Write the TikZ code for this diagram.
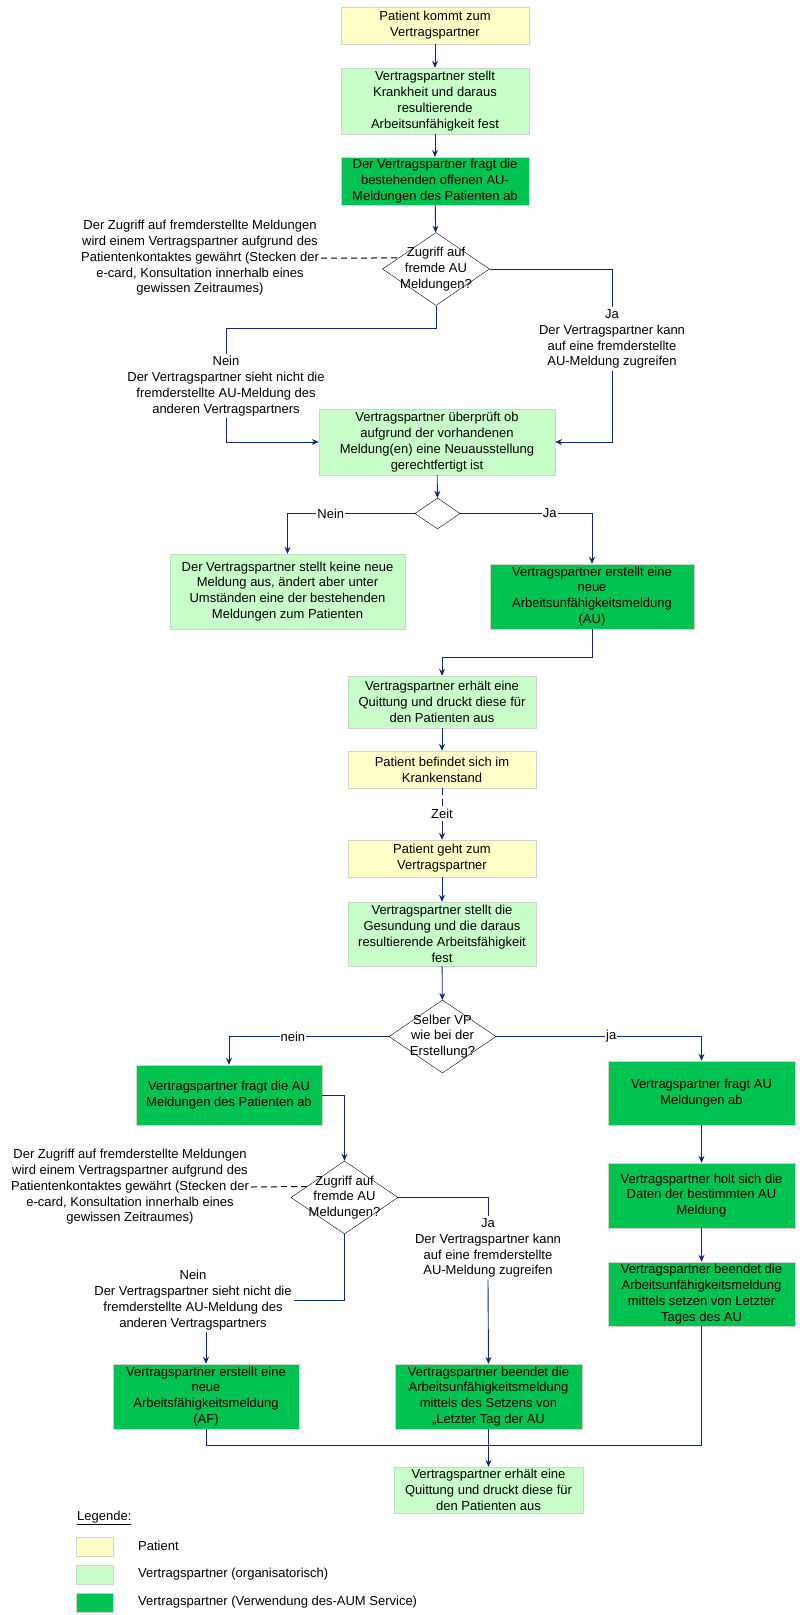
\documentclass[tikz,border=0pt]{standalone}
\usepackage{fontspec}
\setmainfont{Liberation Sans}
\usetikzlibrary{shapes.geometric,arrows.meta,calc}

\definecolor{patientyellow}{RGB}{255,255,200}
\definecolor{orgagreen}{RGB}{200,255,200}
\definecolor{aumgreen}{RGB}{0,194,80}
\definecolor{linkblue}{RGB}{16,40,120}

\begin{document}
\begin{tikzpicture}[x=1pt,y=-1pt,
  font=\fontsize{13}{15.8}\selectfont,
  box/.style={draw=black!18, align=center, inner sep=2pt},
  patient/.style={box, fill=patientyellow},
  orga/.style={box, fill=orgagreen},
  aum/.style={box, fill=aumgreen},
  decision/.style={diamond, draw, inner sep=0pt, minimum width=107pt, minimum height=73pt},
  note/.style={align=center, inner sep=2pt},
  lbl/.style={fill=white, inner sep=1pt},
  flow/.style={draw=linkblue, line width=0.9pt},
  arr/.style={flow, -{Stealth[length=7pt,width=6pt]}},
  hint/.style={draw=black, line width=1pt, dash pattern=on 6pt off 4pt}]

  \useasboundingbox (0,0) rectangle (800,1615);

  % first visit
  \node (p1) at (435,25.5) [patient, minimum width=188pt, minimum height=37pt] {Patient kommt zum\\Vertragspartner};
  \node (b2) at (435,101) [orga, minimum width=188pt, minimum height=66pt] {Vertragspartner stellt\\Krankheit und daraus\\resultierende\\Arbeitsunfähigkeit fest};
  \node (b3) at (435,181) [aum, minimum width=188pt, minimum height=46pt] {Der Vertragspartner fragt die\\bestehenden offenen AU-\\Meldungen des Patienten ab};

  \node (d1) at (436,269) [decision, label={[align=center]center:Zugriff auf\\fremde AU\\Meldungen?}] {};
  \node (note1) at (200,258) [note] {Der Zugriff auf fremderstellte Meldungen\\wird einem Vertragspartner aufgrund des\\Patientenkontaktes gewährt (Stecken der\\e-card, Konsultation innerhalb eines\\gewissen Zeitraumes)};
  \node (ja1) at (612,339) [note] {Ja\\Der Vertragspartner kann\\auf eine fremderstellte\\AU-Meldung zugreifen};
  \node (nein1) at (226,386) [note] {Nein\\Der Vertragspartner sieht nicht die\\fremderstellte AU-Meldung des\\anderen Vertragspartners};

  \node (b4) at (437,442) [orga, minimum width=236pt, minimum height=66pt] {Vertragspartner überprüft ob\\aufgrund der vorhandenen\\Meldung(en) eine Neuausstellung\\gerechtfertigt ist};
  \node (d2) at (437.5,513.5) [decision, minimum width=45pt, minimum height=31pt] {};
  \node (b5) at (287.5,591.5) [orga, minimum width=235pt, minimum height=75pt] {Der Vertragspartner stellt keine neue\\Meldung aus, ändert aber unter\\Umständen eine der bestehenden\\Meldungen zum Patienten};
  \node (b6) at (592,596.5) [aum, minimum width=204pt, minimum height=65pt] {Vertragspartner erstellt eine\\neue\\Arbeitsunfähigkeitsmeldung\\(AU)};

  \node (b7) at (442,702) [orga, minimum width=188pt, minimum height=52pt] {Vertragspartner erhält eine\\Quittung und druckt diese für\\den Patienten aus};
  \node (b8) at (442,769.5) [patient, minimum width=188pt, minimum height=37pt] {Patient befindet sich im\\Krankenstand};
  \node (zeit) at (442,814) [note] {Zeit};

  % second visit
  \node (b9) at (442,858.5) [patient, minimum width=188pt, minimum height=37pt] {Patient geht zum\\Vertragspartner};
  \node (b10) at (442,934) [orga, minimum width=188pt, minimum height=64pt] {Vertragspartner stellt die\\Gesundung und die daraus\\resultierende Arbeitsfähigkeit\\fest};
  \node (d3) at (442.5,1036.5) [decision, label={[align=center]center:Selber VP\\wie bei der\\Erstellung?}] {};

  \node (b11) at (229,1095) [aum, minimum width=186pt, minimum height=60pt] {Vertragspartner fragt die AU\\Meldungen des Patienten ab};
  \node (b12) at (701.5,1093) [aum, minimum width=187pt, minimum height=64pt] {Vertragspartner fragt AU\\Meldungen ab};
  \node (b12b) at (701.5,1195.5) [aum, minimum width=187pt, minimum height=65pt] {Vertragspartner holt sich die\\Daten der bestimmten AU\\Meldung};
  \node (b12c) at (701.5,1294) [aum, minimum width=187pt, minimum height=64pt] {Vertragspartner beendet die\\Arbeitsunfähigkeitsmeldung\\mittels setzen von Letzter\\Tages des AU};

  \node (d4) at (344.5,1197.5) [decision, label={[align=center]center:Zugriff auf\\fremde AU\\Meldungen?}] {};
  \node (note2) at (130,1187) [note] {Der Zugriff auf fremderstellte Meldungen\\wird einem Vertragspartner aufgrund des\\Patientenkontaktes gewährt (Stecken der\\e-card, Konsultation innerhalb eines\\gewissen Zeitraumes)};
  \node (ja2) at (488,1248) [note] {Ja\\Der Vertragspartner kann\\auf eine fremderstellte\\AU-Meldung zugreifen};
  \node (nein2) at (193,1300) [note] {Nein\\Der Vertragspartner sieht nicht die\\fremderstellte AU-Meldung des\\anderen Vertragspartners};

  \node (b13) at (206,1396.5) [aum, minimum width=186pt, minimum height=65pt] {Vertragspartner erstellt eine\\neue\\Arbeitsfähigkeitsmeldung\\(AF)};
  \node (b14) at (488.5,1396.5) [aum, minimum width=187pt, minimum height=65pt] {Vertragspartner beendet die\\Arbeitsunfähigkeitsmeldung\\mittels des Setzens von\\„Letzter Tag der AU};
  \node (b15) at (488.5,1490) [orga, minimum width=189pt, minimum height=46pt] {Vertragspartner erhält eine\\Quittung und druckt diese für\\den Patienten aus};
  \coordinate (join) at (488.5,1445);

  % connectors
  \draw[arr] (p1) -- (b2);
  \draw[arr] (b2) -- (b3);
  \draw[arr] (b3) -- (d1);
  \draw[hint] (note1.east) -- ($(d1.west)!0.3!(d1.north)$);
  \draw[flow] (d1.east) -| (ja1.north);
  \draw[arr] (ja1.south) |- (b4.east);
  \draw[flow] (d1.south) -- ++(0,23) -| (nein1.north);
  \draw[arr] (nein1.south) |- (b4.west);
  \draw[arr] (b4) -- (d2);
  \draw[arr] (d2.west) -| node[lbl, pos=0.33] {Nein} (b5.north);
  \draw[arr] (d2.east) -| node[lbl, pos=0.34] {Ja} (b6.north);
  \draw[arr] (b6.south) -- ++(0,28) -| (b7.north);
  \draw[arr] (b7) -- (b8);
  \draw[flow, dash pattern=on 7pt off 4pt] (b8) -- (zeit);
  \draw[arr] (zeit) -- (b9);
  \draw[arr] (b9) -- (b10);
  \draw[arr] (b10) -- (d3);
  \draw[arr] (d3.west) -| node[lbl, pos=0.3] {nein} (b11.north);
  \draw[arr] (d3.east) -| node[lbl, pos=0.28] {ja} (b12.north);
  \draw[arr] (b11.east) -| (d4.north);
  \draw[hint] (note2.east) -- ($(d4.west)!0.3!(d4.north)$);
  \draw[flow] (d4.east) -| (ja2.north);
  \draw[arr] (ja2.south) -- (b14.north);
  \draw[flow] (d4.south) |- (nein2.east);
  \draw[arr] (nein2.south -| b13.north) -- (b13.north);
  \draw[arr] (b12) -- (b12b);
  \draw[arr] (b12b) -- (b12c);
  \draw[flow] (b13.south) |- (join);
  \draw[flow] (b12c.south) |- (join);
  \draw[arr] (b14.south) -- (b15.north);

  % legend
  \node (legtitle) at (77,1518) [anchor=west, inner sep=0pt] {\underline{Legende:}};
  \node (legpat) at (94.5,1546.5) [patient, minimum width=37pt, minimum height=19pt] {};
  \node (legorga) at (94.5,1575) [orga, minimum width=37pt, minimum height=19pt] {};
  \node (legaum) at (94.5,1602.5) [aum, minimum width=37pt, minimum height=19pt] {};
  \node (legpattxt) at (138,1546) [anchor=west, inner sep=0pt] {Patient};
  \node (legorgatxt) at (138,1574) [anchor=west, inner sep=0pt] {Vertragspartner (organisatorisch)};
  \node (legaumtxt) at (138,1602) [anchor=west, inner sep=0pt] {Vertragspartner (Verwendung des-AUM Service)};

\end{tikzpicture}
\end{document}
